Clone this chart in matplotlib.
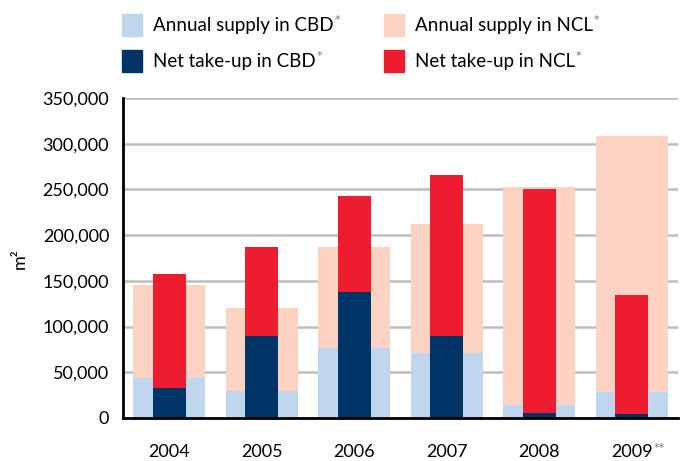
import numpy as np
import matplotlib.pyplot as plt
from matplotlib.patches import Rectangle

plt.rcParams['font.family'] = ['Lato', 'DejaVu Sans']

years = ['2004', '2005', '2006', '2007', '2008', '2009']
supply_cbd = [44000, 29000, 77000, 71000, 14000, 28000]
supply_ncl = [101000, 91000, 110000, 141000, 239000, 280000]
takeup_cbd = [33000, 90000, 138000, 90000, 6000, 4000]
takeup_ncl = [125000, 97000, 105000, 176000, 245000, 131000]

c_sup_cbd = '#c0d6ee'
c_sup_ncl = '#fcd3c2'
c_tk_cbd = '#003466'
c_tk_ncl = '#ed1c2e'

fig = plt.figure(figsize=(6.86, 4.61), dpi=100)
ax = fig.add_axes([0.1793, 0.0933, 0.809, 0.694])

x = np.arange(len(years))
wide, narrow = 0.775, 0.355

ax.bar(x, supply_cbd, wide, color=c_sup_cbd, zorder=2)
ax.bar(x, supply_ncl, wide, bottom=supply_cbd, color=c_sup_ncl, zorder=2)
ax.bar(x, takeup_cbd, narrow, color=c_tk_cbd, zorder=3)
ax.bar(x, takeup_ncl, narrow, bottom=takeup_cbd, color=c_tk_ncl, zorder=3)

ax.set_xlim(-0.5, 5.5)
ax.set_ylim(0, 350000)
ax.set_yticks(np.arange(0, 350001, 50000))
ax.set_yticklabels([f'{v:,}' for v in range(0, 350001, 50000)])
ax.set_xticks(x)
ax.set_xticklabels(years)
ax.tick_params(axis='both', length=0, labelsize=13)
ax.tick_params(axis='y', pad=10)
ax.tick_params(axis='x', pad=19)

ax.yaxis.grid(True, color='#bdbdbd', linewidth=1.8, zorder=0)
ax.set_axisbelow(True)
for s in ['top', 'right']:
    ax.spines[s].set_visible(False)
for s in ['left', 'bottom']:
    ax.spines[s].set_linewidth(2)
    ax.spines[s].set_zorder(5)

fig.text(20 / 686, 1 - 259 / 461, 'm²', rotation=90, fontsize=13,
         ha='center', va='center')

# superscript on the last year
last = ax.get_xticklabels()[-1]
ax.annotate('**', xy=(1, 1), xycoords=last, xytext=(0.5, 1),
            textcoords='offset points', fontsize=8, color='#777777',
            family='DejaVu Sans', ha='left', va='top')

# legend
entries = [
    (122, 14, c_sup_cbd, 'Annual supply in CBD'),
    (384, 14, c_sup_ncl, 'Annual supply in NCL'),
    (122, 50, c_tk_cbd, 'Net take-up in CBD'),
    (384, 50, c_tk_ncl, 'Net take-up in NCL'),
]
W, H = 686, 461
for px, py, col, lab in entries:
    fig.patches.append(Rectangle((px / W, 1 - (py + 22) / H), 20 / W, 22 / H,
                                 transform=fig.transFigure, color=col))
    t = fig.text((px + 31) / W, 1 - (py + 11) / H, lab, fontsize=13.5,
                 ha='left', va='center')
    ax.annotate('*', xy=(1, 1), xycoords=t, xytext=(0.5, 1),
                textcoords='offset points', fontsize=8, color='#777777',
                family='DejaVu Sans', ha='left', va='top',
                annotation_clip=False)

fig.savefig('out.png', dpi=100)
